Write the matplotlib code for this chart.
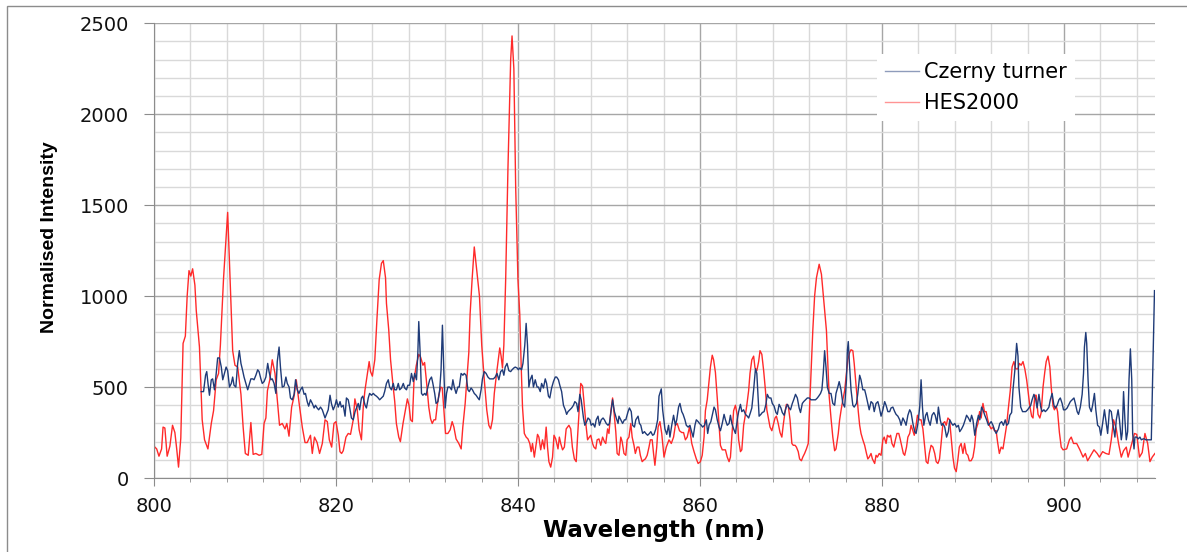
import matplotlib
matplotlib.use("Agg")
import matplotlib.pyplot as plt
from matplotlib.ticker import MultipleLocator
from matplotlib.patches import Rectangle

# HES2000 spectrum (wavelength nm, normalised intensity)
hes_wl = [800.0, 800.3, 800.55, 800.84, 801.0, 801.2, 801.45, 801.75, 802.04, 802.3, 802.5, 802.7, 802.95,
          803.2, 803.45, 803.65, 803.85, 804.05, 804.25, 804.5, 804.65, 805.0, 805.3, 805.56, 805.93, 806.3,
          806.55, 806.84, 807.1, 807.3, 807.65, 808.1, 808.4, 808.65, 808.9, 809.2, 809.56, 809.8, 810.04,
          810.36, 810.65, 810.9, 811.2, 811.56, 811.85, 812.1, 812.3, 812.47, 812.73, 813.0, 813.3, 813.5,
          813.8, 814.1, 814.4, 814.6, 814.84, 815.13, 815.4, 815.64, 815.93, 816.3, 816.6, 816.84, 817.2,
          817.4, 817.64, 817.93, 818.2, 818.5, 818.8, 819.05, 819.27, 819.53, 819.78, 820.0, 820.26, 820.44,
          820.62, 820.8, 821.1, 821.35, 821.6, 821.9, 822.08, 822.34, 822.55, 822.8, 823.0, 823.18, 823.43,
          823.65, 823.8, 824.0, 824.27, 824.5, 824.75, 825.0, 825.2, 825.45, 825.55, 825.8, 826.0, 826.28,
          826.46, 826.64, 826.9, 827.08, 827.37, 827.63, 827.85, 828.03, 828.2, 828.4, 828.58, 828.83, 829.1,
          829.3, 829.56, 829.74, 829.93, 830.2, 830.4, 830.58, 830.77, 830.95, 831.13, 831.3, 831.5, 831.68,
          831.86, 832.04, 832.3, 832.55, 832.77, 832.96, 833.2, 833.5, 833.76, 833.94, 834.2, 834.38, 834.6,
          834.74, 834.96, 835.2, 835.58, 835.77, 836.02, 836.3, 836.57, 836.8, 837.0, 837.2, 837.4, 837.7,
          838.0, 838.15, 838.3, 838.45, 838.55, 838.65, 838.9, 839.2, 839.35, 839.55, 839.75, 840.0, 840.2,
          840.35, 840.5, 840.7, 840.9, 841.1, 841.3, 841.45, 841.6, 841.8, 841.95, 842.15, 842.3, 842.5,
          842.7, 842.9, 843.1, 843.25, 843.4, 843.6, 843.8, 843.96, 844.15, 844.4, 844.55, 844.7, 844.9,
          845.1, 845.3, 845.45, 845.6, 845.8, 845.98, 846.2, 846.4, 846.55, 846.75, 846.9, 847.1, 847.3,
          847.5, 847.65, 847.85, 848.0, 848.2, 848.35, 848.55, 848.7, 848.9, 849.1, 849.3, 849.5, 849.65,
          849.85, 850.0, 850.2, 850.4, 850.55, 850.75, 850.9, 851.1, 851.3, 851.45, 851.65, 851.85, 852.0,
          852.2, 852.4, 852.55, 852.75, 852.9, 853.1, 853.3, 853.45, 853.65, 853.85, 854.0, 854.2, 854.4,
          854.55, 854.75, 854.9, 855.05, 855.25, 855.4, 855.6, 855.8, 856.05, 856.3, 856.6, 856.85, 857.1,
          857.3, 857.5, 857.75, 858.0, 858.2, 858.4, 858.6, 858.85, 859.1, 859.35, 859.6, 859.8, 860.05,
          860.25, 860.45, 860.6, 860.8, 860.98, 861.15, 861.35, 861.5, 861.7, 861.9, 862.1, 862.25, 862.45,
          862.65, 862.8, 863.0, 863.2, 863.35, 863.5, 863.7, 863.9, 864.1, 864.25, 864.45, 864.6, 864.8,
          865.0, 865.15, 865.35, 865.5, 865.7, 865.9, 866.05, 866.25, 866.45, 866.6, 866.8, 867.0, 867.2,
          867.35, 867.55, 867.7, 867.9, 868.05, 868.25, 868.4, 868.6, 868.8, 869.0, 869.15, 869.35, 869.5,
          869.7, 869.9, 870.1, 870.25, 870.45, 870.6, 870.8, 870.95, 871.15, 871.3, 871.5, 871.7, 871.9,
          872.05, 872.25, 872.4, 872.6, 872.8, 873.1, 873.35, 873.6, 873.9, 874.05, 874.2, 874.4, 874.6,
          874.8, 874.95, 875.2, 875.35, 875.5, 875.7, 875.9, 876.1, 876.25, 876.45, 876.6, 876.8, 876.95,
          877.2, 877.4, 877.55, 877.7, 877.9, 878.1, 878.3, 878.45, 878.6, 878.8, 878.95, 879.2, 879.35,
          879.5, 879.7, 879.9, 880.1, 880.25, 880.45, 880.6, 880.8, 880.95, 881.1, 881.3, 881.5, 881.65,
          881.85, 882.0, 882.2, 882.35, 882.5, 882.7, 882.85, 883.05, 883.2, 883.4, 883.55, 883.75, 883.9,
          884.1, 884.3, 884.5, 884.7, 884.86, 885.05, 885.2, 885.4, 885.6, 885.8, 885.96, 886.15, 886.33,
          886.5, 886.7, 886.9, 887.06, 887.25, 887.43, 887.6, 887.8, 887.97, 888.16, 888.34, 888.5, 888.7,
          888.9, 889.08, 889.26, 889.44, 889.6, 889.8, 890.0, 890.18, 890.36, 890.55, 890.73, 890.9, 891.1,
          891.27, 891.45, 891.63, 891.8, 892.0, 892.2, 892.36, 892.55, 892.7, 892.9, 893.1, 893.3, 893.5,
          893.7, 893.85, 894.1, 894.3, 894.5, 894.7, 894.95, 895.1, 895.3, 895.5, 895.7, 895.9, 896.05,
          896.25, 896.45, 896.6, 896.8, 896.95, 897.15, 897.35, 897.5, 897.7, 897.9, 898.05, 898.25, 898.45,
          898.6, 898.8, 898.95, 899.15, 899.3, 899.5, 899.7, 899.9, 900.3, 900.6, 900.8, 901.05, 901.4,
          901.75, 902.1, 902.35, 902.6, 902.95, 903.3, 903.65, 903.9, 904.25, 904.6, 904.95, 905.2, 905.45,
          905.75, 906.0, 906.3, 906.55, 906.85, 907.05, 907.4, 907.75, 908.0, 908.3, 908.6, 908.9, 909.2,
          909.45, 909.7, 910.0]
hes_val = [175, 160, 120, 160, 280, 275, 120, 175, 290, 250, 160, 60, 220,
           740, 780, 1000, 1140, 1110, 1150, 1060, 920, 720, 320, 210, 160, 300,
           370, 540, 575, 730, 1100, 1460, 1050, 700, 620, 610, 460, 280, 135,
           125, 305, 130, 135, 125, 130, 300, 330, 480, 540, 650, 575, 460,
           290, 300, 270, 300, 230, 390, 450, 540, 420, 280, 195, 195, 235,
           135, 225, 195, 135, 190, 320, 310, 210, 170, 300, 310, 235, 145,
           135, 150, 225, 245, 240, 320, 435, 375, 265, 210, 390, 480, 565,
           640, 585, 560, 650, 870, 1090, 1180, 1195, 1100, 960, 815, 650, 505,
           420, 300, 225, 200, 300, 375, 435, 400, 320, 310, 540, 620, 680,
           665, 620, 635, 540, 390, 325, 300, 320, 320, 400, 450, 500, 495,
           375, 245, 245, 265, 310, 280, 215, 190, 160, 280, 410, 540, 690,
           900, 1090, 1270, 1090, 1000, 730, 540, 375, 290, 270, 320, 465, 595,
           715, 670, 605, 730, 900, 1090, 1700, 2300, 2430, 2250, 1600, 1090, 900,
           625, 390, 245, 225, 215, 190, 145, 190, 115, 170, 240, 225, 155,
           210, 160, 280, 170, 90, 60, 115, 235, 215, 160, 225, 190, 155,
           170, 270, 280, 290, 270, 170, 105, 90, 225, 390, 520, 505, 390,
           280, 210, 225, 235, 190, 170, 160, 210, 215, 180, 225, 200, 190,
           270, 245, 365, 440, 365, 255, 135, 125, 225, 200, 135, 125, 210,
           225, 300, 225, 180, 135, 170, 170, 125, 90, 100, 105, 125, 170,
           210, 210, 135, 70, 170, 280, 310, 245, 115, 170, 210, 190, 225,
           290, 300, 260, 250, 250, 210, 225, 280, 190, 145, 105, 80, 90,
           125, 225, 370, 430, 520, 610, 675, 650, 580, 440, 290, 180, 155,
           155, 155, 115, 90, 115, 225, 370, 400, 345, 210, 145, 155, 290,
           350, 400, 480, 575, 650, 670, 605, 590, 640, 700, 680, 590, 480,
           375, 320, 280, 260, 290, 330, 340, 300, 250, 225, 290, 365, 405,
           400, 320, 190, 180, 180, 170, 145, 105, 95, 115, 135, 160, 190,
           390, 630, 810, 1000, 1100, 1175, 1120, 980, 810, 630, 450, 330, 225,
           150, 160, 245, 320, 370, 430, 480, 575, 650, 690, 705, 700, 630,
           480, 365, 290, 245, 210, 180, 135, 105, 115, 135, 105, 80, 125,
           115, 135, 125, 210, 225, 190, 235, 225, 235, 190, 170, 215, 245,
           245, 215, 170, 135, 125, 170, 225, 245, 290, 260, 235, 290, 345,
           320, 320, 270, 170, 90, 80, 135, 180, 170, 135, 90, 80, 105,
           190, 300, 310, 290, 330, 320, 225, 115, 55, 35, 100, 170, 190,
           135, 190, 135, 125, 95, 95, 115, 170, 270, 300, 365, 330, 410,
           365, 365, 320, 290, 270, 280, 260, 260, 200, 135, 170, 160, 225,
           290, 365, 480, 610, 640, 600, 600, 630, 620, 640, 600, 540, 480,
           395, 340, 330, 455, 455, 350, 330, 360, 500, 585, 640, 670, 610,
           500, 395, 375, 395, 365, 250, 170, 155, 160, 210, 225, 190, 190,
           155, 115, 135, 95, 125, 155, 135, 115, 145, 135, 130, 210, 320,
           270, 190, 115, 150, 170, 115, 180, 245, 240, 115, 140, 245, 190,
           90, 115, 135]

# Czerny turner spectrum
ct_wl = [805.2, 805.45, 805.67, 805.8, 805.95, 806.1, 806.3, 806.45, 806.65, 806.84, 807.0, 807.2, 807.4,
         807.56, 807.75, 807.93, 808.1, 808.3, 808.5, 808.65, 808.8, 809.0, 809.2, 809.38, 809.56, 809.75,
         809.9, 810.1, 810.3, 810.5, 810.65, 810.85, 811.0, 811.2, 811.4, 811.55, 811.75, 811.9, 812.1,
         812.3, 812.5, 812.65, 812.85, 813.0, 813.2, 813.4, 813.55, 813.75, 813.9, 814.1, 814.3, 814.5,
         814.65, 814.85, 815.0, 815.2, 815.4, 815.56, 815.75, 815.93, 816.1, 816.3, 816.5, 816.65, 816.84,
         817.0, 817.2, 817.4, 817.6, 817.75, 817.93, 818.1, 818.3, 818.5, 818.8, 818.95, 819.15, 819.35,
         819.5, 819.7, 819.9, 820.05, 820.25, 820.45, 820.6, 820.8, 821.0, 821.15, 821.35, 821.5, 821.7,
         821.9, 822.1, 822.3, 822.45, 822.6, 822.8, 822.95, 823.2, 823.35, 823.55, 823.7, 823.9, 824.1,
         824.3, 824.45, 824.65, 824.8, 825.0, 825.2, 825.35, 825.55, 825.75, 825.9, 826.1, 826.3, 826.45,
         826.65, 826.85, 827.0, 827.2, 827.4, 827.55, 827.75, 827.9, 828.1, 828.3, 828.5, 828.65, 828.85,
         829.0, 829.1, 829.25, 829.4, 829.55, 829.75, 829.9, 830.1, 830.3, 830.5, 830.65, 830.85, 831.0,
         831.2, 831.4, 831.55, 831.7, 831.85, 832.0, 832.15, 832.3, 832.5, 832.7, 832.85, 833.0, 833.2,
         833.4, 833.55, 833.75, 833.95, 834.1, 834.3, 834.5, 834.65, 834.85, 835.0, 835.2, 835.4, 835.6,
         835.75, 835.95, 836.1, 836.3, 836.5, 836.7, 836.9, 837.1, 837.3, 837.5, 837.7, 837.9, 838.1,
         838.3, 838.45, 838.6, 838.8, 839.0, 839.2, 839.35, 839.55, 839.7, 839.9, 840.05, 840.2, 840.4,
         840.55, 840.75, 840.9, 841.05, 841.2, 841.35, 841.55, 841.7, 841.9, 842.1, 842.25, 842.45, 842.6,
         842.8, 843.0, 843.15, 843.35, 843.5, 843.7, 843.9, 844.1, 844.25, 844.45, 844.6, 844.8, 845.0,
         845.2, 845.35, 845.5, 845.7, 845.9, 846.1, 846.25, 846.45, 846.6, 846.8, 846.95, 847.2, 847.35,
         847.55, 847.7, 847.9, 848.05, 848.25, 848.45, 848.6, 848.8, 848.95, 849.15, 849.35, 849.5, 849.7,
         849.9, 850.05, 850.25, 850.4, 850.6, 850.8, 851.0, 851.1, 851.3, 851.5, 851.7, 851.85, 852.1,
         852.25, 852.45, 852.6, 852.8, 852.95, 853.2, 853.35, 853.5, 853.7, 853.9, 854.05, 854.25, 854.45,
         854.6, 854.8, 854.95, 855.15, 855.35, 855.5, 855.75, 855.9, 856.15, 856.35, 856.55, 856.7, 856.9,
         857.1, 857.3, 857.45, 857.65, 857.8, 858.0, 858.15, 858.35, 858.5, 858.7, 858.9, 859.05, 859.25,
         859.45, 859.6, 859.8, 859.95, 860.15, 860.3, 860.5, 860.7, 860.85, 861.0, 861.2, 861.35, 861.55,
         861.7, 861.9, 862.1, 862.25, 862.45, 862.65, 862.8, 863.0, 863.2, 863.35, 863.5, 863.7, 863.9,
         864.1, 864.25, 864.45, 864.6, 864.8, 865.0, 865.2, 865.35, 865.55, 865.7, 865.9, 866.1, 866.25,
         866.35, 866.5, 866.7, 866.85, 867.05, 867.25, 867.4, 867.6, 867.8, 867.95, 868.15, 868.35, 868.5,
         868.7, 868.9, 869.05, 869.25, 869.45, 869.6, 869.8, 869.95, 870.15, 870.3, 870.5, 870.7, 870.9,
         871.05, 871.25, 871.4, 871.6, 871.8, 872.0, 872.2, 872.35, 872.5, 872.7, 872.9, 873.05, 873.25,
         873.4, 873.55, 873.7, 873.85, 874.0, 874.2, 874.4, 874.6, 874.8, 874.95, 875.15, 875.3, 875.5,
         875.7, 875.9, 876.1, 876.2, 876.3, 876.45, 876.6, 876.8, 876.95, 877.2, 877.35, 877.55, 877.7,
         877.9, 878.1, 878.25, 878.45, 878.6, 878.8, 879.0, 879.15, 879.35, 879.55, 879.7, 879.9, 880.1,
         880.3, 880.45, 880.65, 880.85, 881.0, 881.2, 881.4, 881.55, 881.75, 881.95, 882.1, 882.3, 882.5,
         882.65, 882.85, 883.05, 883.2, 883.4, 883.6, 883.75, 883.95, 884.15, 884.3, 884.45, 884.6, 884.8,
         884.95, 885.1, 885.3, 885.5, 885.7, 885.85, 886.05, 886.2, 886.4, 886.55, 886.7, 886.9, 887.1,
         887.3, 887.45, 887.65, 887.8, 888.0, 888.2, 888.4, 888.55, 888.75, 888.95, 889.15, 889.3, 889.5,
         889.7, 889.85, 890.0, 890.2, 890.4, 890.6, 890.75, 890.95, 891.1, 891.3, 891.5, 891.7, 891.85,
         892.0, 892.2, 892.4, 892.55, 892.8, 892.95, 893.15, 893.35, 893.55, 893.7, 893.9, 894.05, 894.25,
         894.4, 894.6, 894.8, 894.95, 895.05, 895.25, 895.45, 895.6, 895.8, 896.0, 896.15, 896.35, 896.5,
         896.7, 896.9, 897.05, 897.25, 897.45, 897.6, 897.8, 897.95, 898.15, 898.35, 898.5, 898.7, 898.9,
         899.05, 899.25, 899.45, 899.6, 899.8, 899.95, 900.15, 900.35, 900.5, 900.7, 900.9, 901.1, 901.25,
         901.45, 901.6, 901.8, 902.0, 902.15, 902.25, 902.4, 902.5, 902.65, 902.8, 903.0, 903.15, 903.35,
         903.5, 903.7, 903.9, 904.05, 904.25, 904.45, 904.6, 904.8, 905.0, 905.2, 905.4, 905.6, 905.75,
         905.95, 906.1, 906.3, 906.4, 906.55, 906.7, 906.85, 907.0, 907.15, 907.3, 907.45, 907.55, 907.7,
         907.8, 908.0, 908.15, 908.35, 908.5, 908.7, 908.85, 909.0, 909.2, 909.4, 909.6, 909.95]
ct_val = [475, 475, 565, 585, 515, 455, 540, 545, 485, 575, 660, 660, 610,
          540, 575, 610, 590, 500, 520, 555, 510, 500, 630, 700, 630, 590,
          555, 520, 485, 520, 545, 545, 540, 565, 595, 585, 545, 520, 530,
          555, 630, 585, 540, 545, 520, 465, 640, 720, 610, 500, 505, 555,
          520, 500, 440, 430, 460, 540, 485, 465, 485, 500, 460, 465, 420,
          395, 430, 410, 385, 400, 385, 375, 390, 375, 330, 350, 375, 455,
          410, 375, 400, 430, 390, 420, 390, 400, 340, 440, 430, 390, 330,
          320, 365, 390, 410, 375, 440, 450, 400, 385, 440, 465, 455, 465,
          455, 450, 440, 430, 440, 450, 475, 520, 540, 500, 485, 520, 485,
          485, 520, 485, 495, 520, 495, 485, 510, 510, 575, 530, 575, 540,
          690, 860, 690, 465, 455, 465, 455, 500, 540, 555, 520, 465, 410,
          420, 485, 595, 840, 595, 385, 465, 500, 500, 485, 540, 500, 465,
          500, 500, 575, 565, 575, 565, 485, 475, 495, 485, 465, 455, 440,
          430, 485, 545, 585, 575, 555, 545, 545, 545, 555, 575, 540, 585,
          595, 565, 610, 630, 590, 585, 595, 605, 610, 605, 595, 605, 595,
          630, 730, 850, 730, 500, 540, 565, 500, 540, 500, 500, 475, 520,
          495, 545, 520, 450, 440, 495, 530, 555, 555, 540, 510, 475, 400,
          375, 350, 365, 375, 385, 400, 420, 410, 365, 460, 430, 330, 290,
          310, 330, 320, 290, 300, 280, 320, 340, 290, 320, 330, 320, 300,
          290, 300, 375, 430, 365, 330, 300, 340, 320, 300, 320, 320, 365,
          385, 365, 290, 280, 320, 340, 300, 290, 245, 255, 245, 235, 245,
          255, 235, 240, 270, 320, 450, 490, 375, 270, 240, 290, 225, 290,
          345, 290, 320, 390, 410, 365, 350, 320, 290, 280, 290, 260, 225,
          290, 320, 310, 300, 290, 280, 290, 320, 245, 290, 310, 345, 390,
          375, 320, 280, 260, 300, 350, 320, 290, 300, 345, 300, 270, 245,
          320, 365, 405, 365, 375, 350, 340, 330, 360, 385, 485, 600, 575,
          485, 340, 350, 360, 365, 405, 460, 440, 440, 410, 395, 360, 350,
          405, 385, 360, 345, 385, 405, 385, 375, 410, 430, 460, 440, 385,
          360, 410, 420, 430, 440, 440, 430, 430, 430, 430, 440, 450, 465,
          485, 575, 700, 610, 500, 465, 465, 410, 400, 465, 500, 530, 485,
          410, 390, 540, 700, 750, 610, 485, 400, 390, 410, 465, 565, 540,
          485, 485, 455, 410, 375, 420, 410, 365, 410, 420, 390, 340, 375,
          420, 400, 365, 365, 385, 390, 365, 350, 340, 320, 290, 330, 310,
          290, 345, 375, 360, 300, 255, 245, 300, 390, 540, 390, 290, 345,
          360, 320, 290, 345, 360, 345, 300, 390, 320, 290, 300, 280, 225,
          255, 320, 300, 290, 300, 280, 290, 255, 270, 290, 320, 345, 330,
          310, 345, 320, 235, 300, 345, 320, 390, 375, 345, 320, 290, 300,
          310, 290, 260, 245, 270, 300, 310, 290, 320, 290, 300, 345, 360,
          485, 590, 740, 670, 500, 390, 365, 365, 365, 375, 385, 400, 430,
          460, 430, 385, 460, 390, 365, 375, 365, 375, 390, 430, 465, 400,
          385, 400, 430, 440, 410, 375, 375, 385, 400, 420, 430, 440, 410,
          365, 350, 390, 460, 575, 720, 800, 740, 540, 390, 365, 400, 465,
          375, 290, 280, 235, 300, 375, 320, 245, 375, 365, 290, 225, 320,
          375, 320, 210, 245, 475, 320, 210, 255, 540, 710, 540, 245, 160,
          225, 225, 215, 225, 210, 215, 215, 210, 210, 210, 210, 1030]

fig = plt.figure(figsize=(11.87, 5.52), dpi=100)
ax = fig.add_axes([0.1297, 0.134, 0.8433, 0.824])

ax.plot(ct_wl, ct_val, color='#1f3b78', lw=1.0, label='Czerny turner', zorder=3)
ax.plot(hes_wl, hes_val, color='#ff2a2a', lw=1.0, label='HES2000', zorder=2)

ax.set_xlim(800, 910)
ax.set_ylim(0, 2500)
ax.xaxis.set_major_locator(MultipleLocator(20))
ax.xaxis.set_minor_locator(MultipleLocator(4))
ax.yaxis.set_major_locator(MultipleLocator(500))
ax.yaxis.set_minor_locator(MultipleLocator(100))

ax.grid(which='major', color='#a6a6a6', lw=1.0, zorder=0)
ax.grid(which='minor', color='#d9d9d9', lw=1.0, zorder=0)
ax.set_axisbelow(True)

for s in ['top', 'right']:
    ax.spines[s].set_visible(False)
ax.spines['left'].set_color('#8c8c8c')
ax.spines['bottom'].set_color('#8c8c8c')

ax.tick_params(axis='x', which='major', length=6, color='#8c8c8c', pad=8,
               labelsize=14, labelcolor='#111111')
ax.tick_params(axis='x', which='minor', length=3, color='#8c8c8c')
ax.tick_params(axis='y', which='major', length=7, color='#8c8c8c', pad=11,
               labelsize=14, labelcolor='#111111')
ax.tick_params(axis='y', which='minor', length=0)

ax.set_xlabel('Wavelength (nm)', fontsize=16.5, fontweight='bold')
ax.xaxis.set_label_coords(0.5, -0.09)
ax.set_ylabel('Normalised Intensity', fontsize=14, fontweight='bold',
              family='Liberation Sans', va='center')
ax.yaxis.set_label_coords(-0.104, 0.53)

leg = ax.legend(loc='upper left', bbox_to_anchor=(0.712, 0.955), fontsize=15,
                frameon=True, fancybox=False, framealpha=1.0, handlelength=1.6,
                borderpad=0.4, labelspacing=0.5, handletextpad=0.25)
leg.get_frame().set_edgecolor('none')
leg.get_frame().set_facecolor('white')
for h in leg.get_lines():
    h.set_alpha(0.5)

# chart-area border
fig.patches.append(Rectangle((7 / 1187, -0.01), 1.02, 1 - 6 / 552 + 0.01,
                             transform=fig.transFigure, fill=False,
                             edgecolor='#8c8c8c', lw=1.0))

fig.savefig('out.png', dpi=100)
